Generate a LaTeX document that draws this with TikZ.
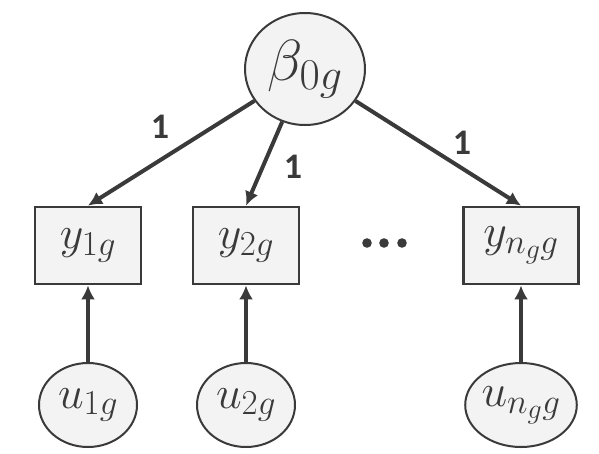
\documentclass[tikz,border=0pt]{standalone}
\usepackage{fix-cm}
\usepackage{fontspec}
\newfontfamily\lblfont{Carlito}
\usetikzlibrary{shapes.geometric,arrows.meta}
\DeclareMathSizes{46}{46}{35}{28}
\DeclareMathSizes{58}{58}{44}{34}
\definecolor{dgray}{HTML}{3A3A3A}
\definecolor{lgray}{HTML}{F3F3F3}
\tikzset{
  obs/.style={draw=dgray,fill=lgray,line width=2.8pt,minimum height=77pt,
    text=dgray,font=\fontsize{46}{52}\selectfont},
  lat/.style={ellipse,draw=dgray,fill=lgray,line width=2pt,inner sep=0pt,
    text=dgray,font=\fontsize{46}{52}\selectfont},
  arr/.style={draw=dgray,line width=4pt,-{Latex[length=14pt,width=14pt]}},
  lbl/.style={text=dgray,font=\lblfont\bfseries\fontsize{36}{42}\selectfont}
}
\begin{document}
\begin{tikzpicture}[x=1pt,y=-1pt]
\useasboundingbox (0,0) rectangle (599,453);
\node[lat,minimum width=120pt,minimum height=112pt,font=\fontsize{58}{64}\selectfont] (b0) at (305,69) {$\beta_{0g}$};
% observed and unique parts
\foreach \n/\x/\w/\s in {1/88/106/{1g},2/246/106/{2g},n/521/115/{n_g g}}{
\node[obs,minimum width=\w pt] (y\n) at (\x,245.5) {$y_{\s}$};
\node[lat,minimum width=98pt,minimum height=84pt] (u\n) at (\x,405) {$u_{\s}$};
\draw[arr] (u\n) -- (y\n);
\draw[arr] (b0) -- (y\n.north);
}
\node[lbl] (l1) at (160,127) {1};
\node[lbl] (l2) at (293,167) {1};
\node[lbl] (ln) at (462,143) {1};
% dots
\foreach \x in {367,384,402}{
\fill[dgray] (\x,243) circle (4.8);
}
\end{tikzpicture}
\end{document}
